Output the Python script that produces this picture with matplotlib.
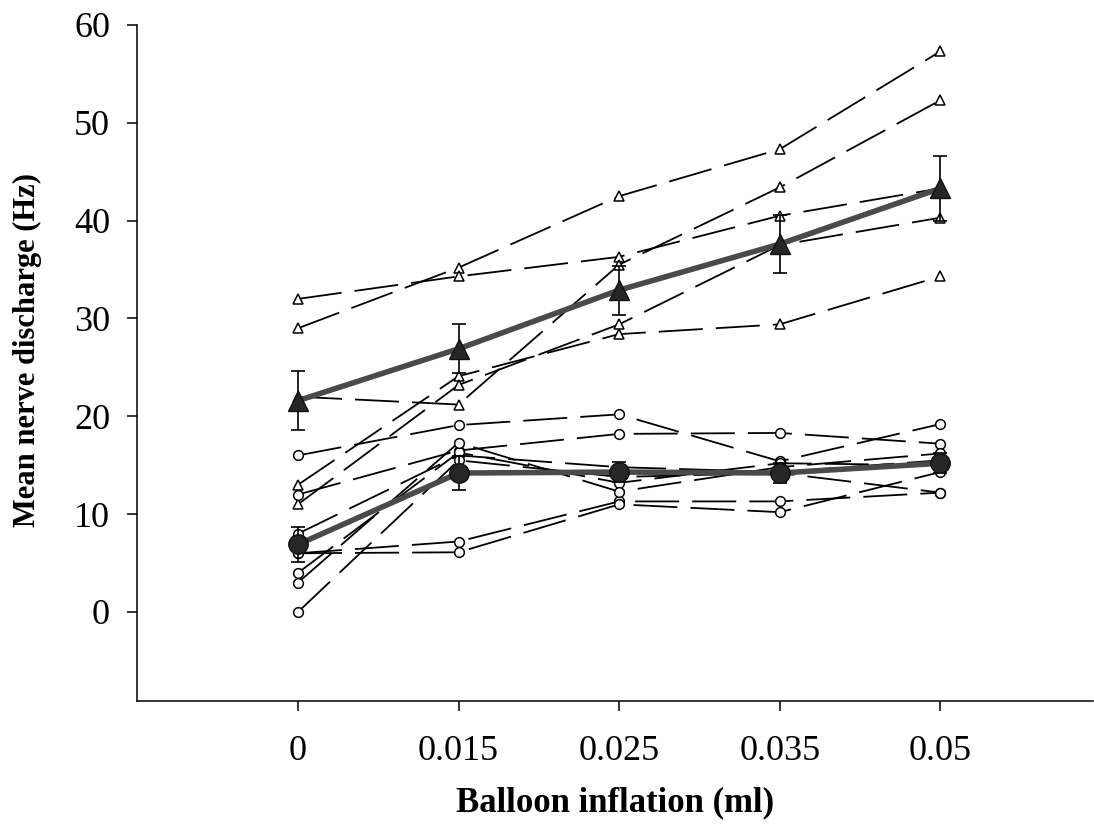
import matplotlib.pyplot as plt
import numpy as np

plt.rcParams["font.family"] = ["Liberation Serif", "DejaVu Serif"]
plt.rcParams["lines.scale_dashes"] = False

# balloon inflation steps (ml), shown as evenly spaced categories
inflation = ["0", "0.015", "0.025", "0.035", "0.05"]

# individual fibres, group drawn with open triangles
tri_1 = [29, 35.2, 42.5, 47.3, 57.3]
tri_2 = [32, 34.3, 36.3, 40.5, 43.3]
tri_3 = [22, 21.2, 35.5, 43.4, 52.3]
tri_4 = [13, 24.1, 28.4, 29.4, 34.3]
tri_5 = [11, 23.2, 29.4, 37.5, 40.3]

# individual fibres, group drawn with open circles
circ_1 = [16, 19.1, 20.2, 15.4, 19.2]
circ_2 = [12, 16.5, 18.2, 18.3, 17.2]
circ_3 = [8, 16.0, 14.8, 14.3, 15.5]
circ_4 = [6, 7.2, 11.3, 11.3, 12.2]
circ_5 = [6, 6.1, 11.0, 10.2, 14.3]
circ_6 = [4, 16.3, 13.2, 15.2, 15.0]
circ_7 = [3, 17.3, 12.3, 14.8, 16.2]
circ_8 = [0, 15.5, 13.8, 14.2, 12.2]

# group means with SEM
tri_mean = [21.6, 26.9, 32.9, 37.6, 43.3]
tri_sem = [3.0, 2.5, 2.5, 3.0, 3.3]
circ_mean = [6.9, 14.2, 14.3, 14.2, 15.2]
circ_sem = [1.8, 1.7, 1.0, 1.0, 1.0]

x = np.arange(len(inflation))

fig = plt.figure(figsize=(10.94, 8.35), dpi=100)
ax = fig.add_axes([0.125, 0.1605, 0.874, 0.8096])

dash = (0, (31.7, 9.4))
for ys in [tri_1, tri_2, tri_3, tri_4, tri_5]:
    ax.plot(x, ys, color="black", lw=1.3, ls=dash, marker="^", ms=7.5,
            mfc="white", mec="black", mew=1.1, zorder=2)
for ys in [circ_1, circ_2, circ_3, circ_4, circ_5, circ_6, circ_7, circ_8]:
    ax.plot(x, ys, color="black", lw=1.3, ls=dash, marker="o", ms=7,
            mfc="white", mec="black", mew=1.1, zorder=2)

# mean lines
for mean, sem, mk, ms in [(tri_mean, tri_sem, "^", 15), (circ_mean, circ_sem, "o", 14)]:
    ax.plot(x, mean, color="#4a4a4a", lw=4, zorder=3, solid_capstyle="round")
    ax.errorbar(x, mean, yerr=sem, fmt="none", ecolor="black", elinewidth=1.2,
                capsize=5, capthick=1.2, zorder=4)
    ax.plot(x, mean, ls="none", marker=mk, ms=ms, mfc="#262626", mec="#111111",
            mew=1.0, zorder=5)

ax.set_xlim(-1.004, 4.95)
ax.set_ylim(-9.1, 60)
ax.set_xticks(x)
ax.set_xticklabels(inflation)
ax.set_yticks(np.arange(0, 61, 10))

for side in ["top", "right"]:
    ax.spines[side].set_visible(False)
for side in ["left", "bottom"]:
    ax.spines[side].set_linewidth(1.1)

ax.tick_params(axis="both", direction="out", length=7.2, width=1.1, labelsize=26)
ax.tick_params(axis="x", pad=17)
ax.tick_params(axis="y", pad=12)

ax.set_xlabel("Balloon inflation (ml)", fontsize=25, fontweight="bold", va="center")
ax.xaxis.set_label_coords(0.5, -0.151)
ax.set_ylabel("Mean nerve discharge (Hz)", fontsize=22, fontweight="bold", va="center")
ax.yaxis.set_label_coords(-0.1147, 0.519)

fig.savefig("out.png", dpi=100)
